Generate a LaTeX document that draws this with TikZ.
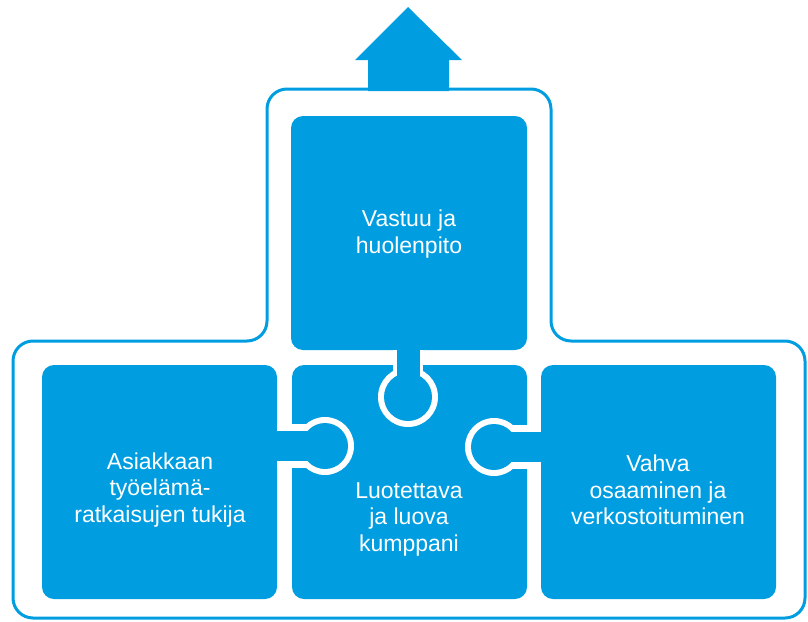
\documentclass[tikz,border=0pt]{standalone}
\usepackage{fontspec}
\setmainfont{Liberation Sans}
\definecolor{pblue}{HTML}{009EE0}
\begin{document}
\begin{tikzpicture}[x=1pt,y=-1pt,
  piece/.style={fill=pblue, rounded corners=12pt},
  lbl/.style={text=white, align=center, font=\fontsize{23}{26.5}\selectfont, inner sep=0pt},
  gapfill/.style={fill=white},
  knobfill/.style={fill=pblue}]
\useasboundingbox (0,0) rectangle (808,621);
% outline
\draw[pblue, line width=3pt, rounded corners=20pt]
  (267,341) -- (13,341) -- (13,618) -- (805,618) -- (805,341) -- (551,341)
  -- (551,89) -- (267,89) -- cycle;
% arrow
\fill[pblue] (368,91) -- (368,60) -- (355,60) -- (408,7) -- (462,60) -- (449,60) -- (449,91) -- cycle;
% pieces
\path[piece] (291,116) rectangle (527,350);
\path[piece] (42,365) rectangle (277,599);
\path[piece] (292,365) rectangle (527,599);
\path[piece] (541,365) rectangle (776,599);
\coordinate (ktop) at (408,397);
\coordinate (kleft) at (325,446);
\coordinate (kright) at (494,447);
% top knob
\fill[gapfill] (ktop) circle (30);
\fill[gapfill] (393,350) rectangle (423,397);
\fill[knobfill] (ktop) circle (24);
\fill[knobfill] (396.5,340) rectangle (419.5,397);
% left knob
\fill[gapfill] (kleft) circle (29);
\fill[gapfill] (277,424) rectangle (325,468);
\fill[knobfill] (kleft) circle (23);
\fill[knobfill] (270,431) rectangle (325,461);
% right knob
\fill[gapfill] (kright) circle (29);
\fill[gapfill] (494,425) rectangle (541,469);
\fill[knobfill] (kright) circle (23);
\fill[knobfill] (494,432) rectangle (548,462);
% labels
\node[lbl] (ttop) at (409,234) {Vastuu ja\\huolenpito};
\node[lbl] (tleft) at (160,490) {Asiakkaan\\työelämä-\\ratkaisujen tukija};
\node[lbl] (tmid) at (409,519) {Luotettava\\ja luova\\kumppani};
\node[lbl] (tright) at (658,490) {Vahva\\osaaminen ja\\verkostoituminen};
\end{tikzpicture}
\end{document}
